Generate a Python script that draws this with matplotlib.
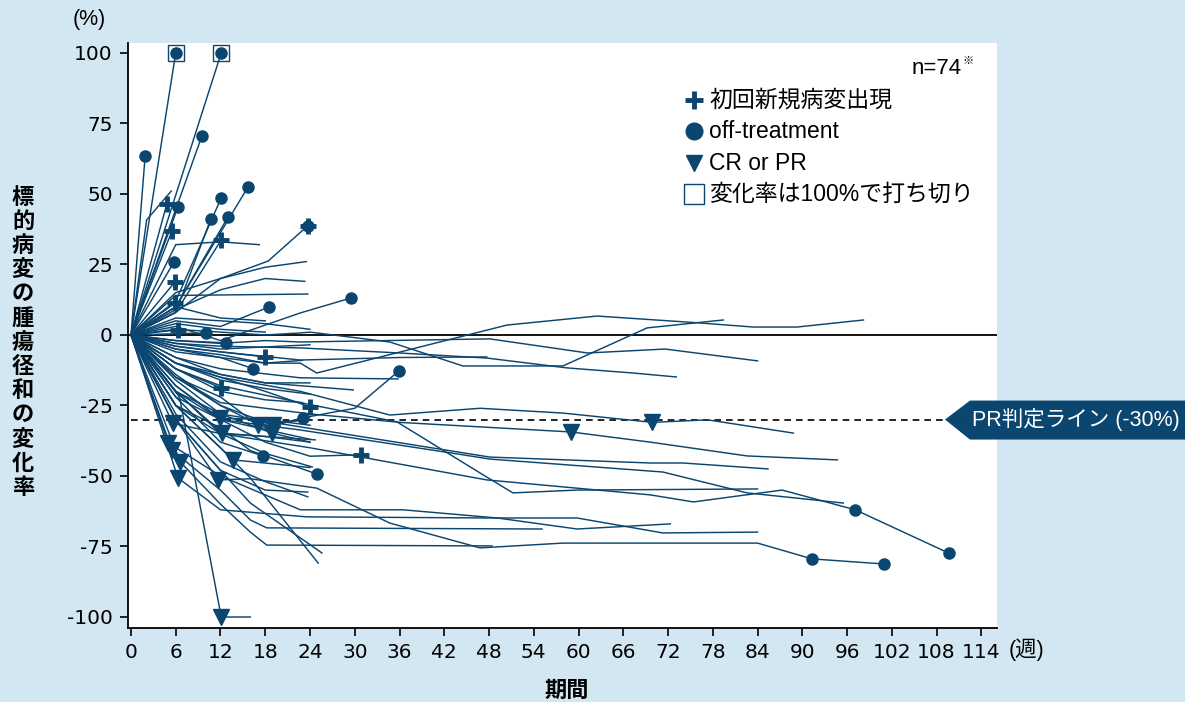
import matplotlib
matplotlib.use("Agg")
import matplotlib.pyplot as plt
from matplotlib.patches import Polygon
from matplotlib.lines import Line2D

# ---- per-patient trajectories: week of assessment and % change from baseline ----
weeks = [
    [0, 6], [0, 12.1], [0, 1.9], [0, 9.5], [0, 6, 15.7], [0, 6.3],
    [0, 6, 12.1], [0, 6, 10.7], [0, 6, 13], [0, 5.8],
    [0, 6, 12, 18.4, 23.7], [0, 6, 12.1], [0, 5.5], [0, 2.1, 5.4], [0, 4.8],
    [0, 5.9], [0, 5.9], [0, 6.3], [0, 6, 23.7], [0, 6, 12, 18, 23.3],
    [0, 6, 12, 18.5], [0, 6, 12, 22.7, 29.5], [0, 10], [0, 6, 12.7],
    [0, 6, 12, 16.4], [0, 6, 12, 18], [0, 6, 12.1], [0, 6, 12, 18, 24],
    [0, 6, 12, 18, 23, 30, 35.9], [0, 6, 12, 18, 24, 30.8],
    [0, 6, 12, 16, 24.9], [0, 6, 12, 17.7], [0, 6, 12, 17.2], [0, 6, 12, 18, 24],
    [0, 5.6, 12, 18, 24.7], [0, 6, 11.9, 18, 24], [0, 6, 12.2, 18, 24],
    [0, 6, 12, 17, 24], [0, 6, 12, 19, 24], [0, 6, 12, 18.9, 24],
    [0, 6, 13.7, 24], [0, 6, 12, 18, 23.7], [0, 6.5, 12.1, 16],
    [0, 6, 12, 18, 23.7], [0, 6, 12, 16, 25.6], [0, 6, 12, 16, 25.1],
    [0, 6, 12, 18, 23], [0, 6, 12, 24], [0, 6, 12, 18, 24.3],
    [0, 6, 12, 18, 23], [0, 6, 12, 24], [0, 6, 12, 18], [0, 6, 12, 18],
    [0, 6, 12, 18, 24], [0, 6, 12, 18, 24],
    [0, 6, 12, 18, 22.7, 24, 34.7, 44.5, 57.9, 69.2, 79.4],
    [0, 6, 12, 18, 22.7, 24.9, 50.4, 62.5, 76, 83.4, 89.3, 98.2],
    [0, 6, 12, 18, 22.7, 48.1, 61.2, 71.6, 84],
    [0, 6, 12, 22.7, 36, 47.7, 58.5, 67.3, 73.1],
    [0, 6, 12, 22.7, 34.7, 46.8, 57.9, 69.9, 77.3, 88.8],
    [0, 6, 12, 22.7, 36, 59, 69.6, 82.6, 94.7],
    [0, 6, 12, 22.7, 48.1, 69.6, 74, 85.4],
    [0, 6, 12, 22.7, 42.8, 48.1, 71.3, 82.6, 95.5],
    [0, 6, 12, 24, 35.7, 47.7, 51.2, 59.8, 84],
    [0, 6, 12, 24, 47.7, 69.6, 75.4, 87.3, 97.1, 109.6],
    [0, 5, 12, 22.7, 36.5, 49.1, 59.8, 72.3],
    [0, 6.3, 12, 23.6, 48.5, 59.8, 71.3, 84],
    [0, 6, 11.7, 16, 24.9, 34.7, 46.8, 57.9, 84, 91.3, 100.9],
    [0, 5.5, 12, 16, 18.2, 55.1],
    [0, 6.6, 12, 16, 18.2, 48.4],
    [0, 6, 12, 22.7, 36, 47.7],
    [0, 6, 12, 22.7, 35.8],
    [0, 6, 12, 18, 29.8],
    [0, 6, 12, 18, 23.5],
]
change = [
    [0, 100], [0, 100], [0, 63.5], [0, 70.5], [0, 10, 52.5], [0, 45.4],
    [0, 12, 48.6], [0, 8, 41.1], [0, 10, 41.8], [0, 26],
    [0, 8, 20, 26.2, 38.7], [0, 8, 33.7], [0, 36.9], [0, 40.8, 51], [0, 46.4],
    [0, 18.8], [0, 11.3], [0, 1.8], [0, 14, 14.5], [0, 9, 16, 20, 19],
    [0, 5, 3, 9.9], [0, 3, -2, 7.8, 13.1], [0, 0.7], [0, -2, -2.8],
    [0, -6, -8, -12], [0, -4, -6, -7.8], [0, -12, -18.8], [0, -10, -15, -20, -25.5],
    [0, -15, -25, -33, -29.4, -26, -12.8], [0, -20, -30, -38, -43, -42.5],
    [0, -25, -33, -41, -49.3], [0, -22, -38, -42.9], [0, 32, 33, 32], [0, 6, 5, 4, 2],
    [0, -31.3, -35, -36, -37.2], [0, -18, -29.5, -30, -32], [0, -20, -34.8, -36, -38],
    [0, -15, -22, -31.9, -30], [0, -14, -25, -32, -29], [0, -16, -28, -34.8, -38],
    [0, -25, -44.3, -47], [0, -30, -48, -55, -55.7], [0, -22, -100, -100],
    [0, -28, -45, -52, -57.4], [0, -30, -48, -59.6, -77.3], [0, -25, -40, -50.7, -80.9],
    [0, -12, -20, -23, -24], [0, -18, -30, -37], [0, -20, -35, -42, -46.8],
    [0, -5, -7, -10, -9], [0, -3, -5, -3.5], [0, 4, 2, 1], [0, 10, 6, 5],
    [0, -8, -14, -17, -17], [0, -10, -16, -19, -21],
    [0, 2, 1, 0, 0.7, 1, -2.5, -11, -11, 2.5, 5.3],
    [0, -5, -8, -10, -10, -13.5, 3.5, 6.7, 4.3, 2.8, 2.8, 5.3],
    [0, -2, -3, -2, -2.5, -1.4, -6.4, -5, -9.2],
    [0, -3, -4, -4.6, -6.4, -8.2, -11.7, -13.5, -14.9],
    [0, -10, -15, -20, -28.4, -26, -27.7, -31, -30.1, -34.8],
    [0, -12, -18, -24, -31, -34.4, -38, -42.9, -44.3],
    [0, -20, -28, -32.6, -43.3, -45.4, -45.4, -47.5],
    [0, -22, -30, -33.7, -41.8, -44, -48.6, -56, -59.6],
    [0, -15, -24, -28, -30.9, -50.4, -56, -55, -54.6],
    [0, -25, -35, -40, -51.4, -56.7, -59.2, -55, -62, -77.3],
    [0, -38.3, -50, -62, -62, -64.9, -68.8, -67],
    [0, -50.7, -62, -64.5, -64.9, -64.9, -70.2, -69.9],
    [0, -30, -51.4, -51, -54.3, -66.7, -75.5, -73.8, -73.8, -79.4, -81.2],
    [0, -40.8, -55, -65.6, -68.4, -68.8],
    [0, -45, -60, -69.9, -74.5, -74.8],
    [0, -4, -6, -8.9, -8, -7.8],
    [0, -8, -12, -15.2, -15.6],
    [0, -10, -14, -17, -19.5],
    [0, 15, 20, 24, 26],
]

# events as (patient, assessment index)
new_lesion = [(10, 4), (11, 2), (12, 1), (14, 1), (15, 1), (16, 1), (17, 1),
              (25, 3), (26, 2), (27, 4), (29, 5)]
off_treatment = [(0, 1), (1, 1), (2, 1), (3, 1), (4, 2), (5, 1), (6, 2), (7, 2),
                 (8, 2), (9, 1), (10, 4), (20, 3), (21, 4), (22, 1), (23, 2),
                 (24, 3), (28, 4), (28, 6), (30, 4), (31, 3), (64, 8), (64, 9),
                 (67, 9), (67, 10)]
cr_pr = [(34, 1), (35, 2), (36, 2), (37, 3), (38, 3), (39, 3), (40, 2), (42, 2),
         (59, 7), (60, 5), (65, 1), (66, 1), (67, 2), (68, 1), (69, 1)]
capped = [0, 1]

x_ticks = list(range(0, 115, 6))
y_ticks = [100, 75, 50, 25, 0, -25, -50, -75, -100]
y_tick_labels = ["100", "75", "50", "25", "0", "-25", "-50", "-75", "-100"]
pr_threshold = -30

legend_labels = ["初回新規病変出現", "off-treatment", "CR or PR", "変化率は100%で打ち切り"]
n_label = "n=74"

# ---- styling ----
BG = "#d2e7f1"
C = "#0b4670"
LATIN = ["Liberation Sans", "Noto Sans CJK JP"]
CJK = ["Noto Sans CJK JP", "Liberation Sans"]
TICKS = ["DejaVu Sans"]
plt.rcParams["font.family"] = LATIN

W, H = 1185, 702
fig = plt.figure(figsize=(W / 100, H / 100), dpi=100, facecolor=BG)


def fx(px):
    return px / W


def fy(py):
    return 1 - py / H


ax = fig.add_axes([fx(128), fy(628), (997 - 128) / W, (628 - 43) / H])
ax.set_facecolor("white")
ax.set_xlim(-0.4, 116.1)
ax.set_ylim(-103.9, 103.5)
for s in ("top", "right"):
    ax.spines[s].set_visible(False)
for s in ("left", "bottom"):
    ax.spines[s].set_linewidth(1.3)
    ax.spines[s].set_color("black")

ax.set_xticks(x_ticks)
ax.set_xticklabels([str(t) for t in x_ticks], family=TICKS)
ax.set_yticks(y_ticks)
ax.set_yticklabels(y_tick_labels, family=TICKS)
ax.tick_params(direction="out", length=6, width=1.2, labelsize=14.5, pad=5,
               colors="black")

ax.axhline(0, color="black", lw=1.3, zorder=1)

# patient trajectories
for w, c in zip(weeks, change):
    ax.plot(w, c, color=C, lw=1.05, zorder=2, solid_joinstyle="miter")

for p, k in off_treatment:
    ax.plot(weeks[p][k], change[p][k], "o", ms=8, color=C, zorder=4, clip_on=False)
for p, k in new_lesion:
    ax.plot(weeks[p][k], change[p][k], "+", ms=12, mew=3.5, color=C, zorder=5,
            clip_on=False)
for p, k in cr_pr:
    ax.plot(weeks[p][k], change[p][k], "v", ms=11, color=C, zorder=4, clip_on=False)
for p in capped:
    ax.plot(weeks[p][-1], change[p][-1], "s", ms=12, mfc="none", mec=C, mew=1.0,
            zorder=5, clip_on=False)

# PR threshold line ending at the label tag
fig.canvas.draw()
tip_x = ax.transData.inverted().transform((945, 0))[0]
ax.plot([0, tip_x], [pr_threshold, pr_threshold], color="black", lw=1.2,
        ls=(0, (4, 3)), zorder=1)
tag_y = ax.transData.transform((0, pr_threshold))[1]
ty = H - tag_y
tag = Polygon([(fx(945), fy(ty)), (fx(970), fy(ty - 19)), (fx(1185), fy(ty - 19)),
               (fx(1185), fy(ty + 20)), (fx(970), fy(ty + 20))],
              closed=True, transform=fig.transFigure, facecolor=C, edgecolor="none")
fig.add_artist(tag)
fig.text(fx(1076), fy(ty), "PR判定ライン (-30%)", color="white", fontsize=15.5,
         ha="center", va="center", family=LATIN)

# axis captions
fig.text(fx(89), fy(20), "(%)", fontsize=15.5, ha="center", va="center")
fig.text(fx(1026), fy(650), "(週)", fontsize=15.5, ha="center", va="center",
         family=LATIN)
fig.text(fx(567), fy(690), "期間", fontsize=16, ha="center", va="center",
         family=CJK, fontweight="bold")
ylab = "標的病変の腫瘍径和の変化率"
for i, ch in enumerate(ylab):
    fig.text(fx(23), fy(197 + i * 24.2), ch, fontsize=16, ha="center", va="center",
             family=CJK, fontweight="bold")

# legend
fig.text(fx(962), fy(68), n_label, fontsize=16, ha="right", va="center")
fig.text(fx(963), fy(61), "※", fontsize=8, ha="left", va="center", family=CJK)
rows = [100, 131, 163, 194]
styles = [dict(marker="+", ms=13, mew=3.5, color=C),
          dict(marker="o", ms=12, color=C),
          dict(marker="v", ms=12, color=C),
          dict(marker="s", ms=14, mfc="none", mec=C, mew=1.0, color=C)]
for r, st, lab in zip(rows, styles, legend_labels):
    fig.add_artist(Line2D([fx(694)], [fy(r)], transform=fig.transFigure, ls="none", **st))
    fig.text(fx(709), fy(r), lab, fontsize=16.5, ha="left", va="center", family=LATIN)

fig.savefig("out.png", dpi=100, facecolor=BG)
